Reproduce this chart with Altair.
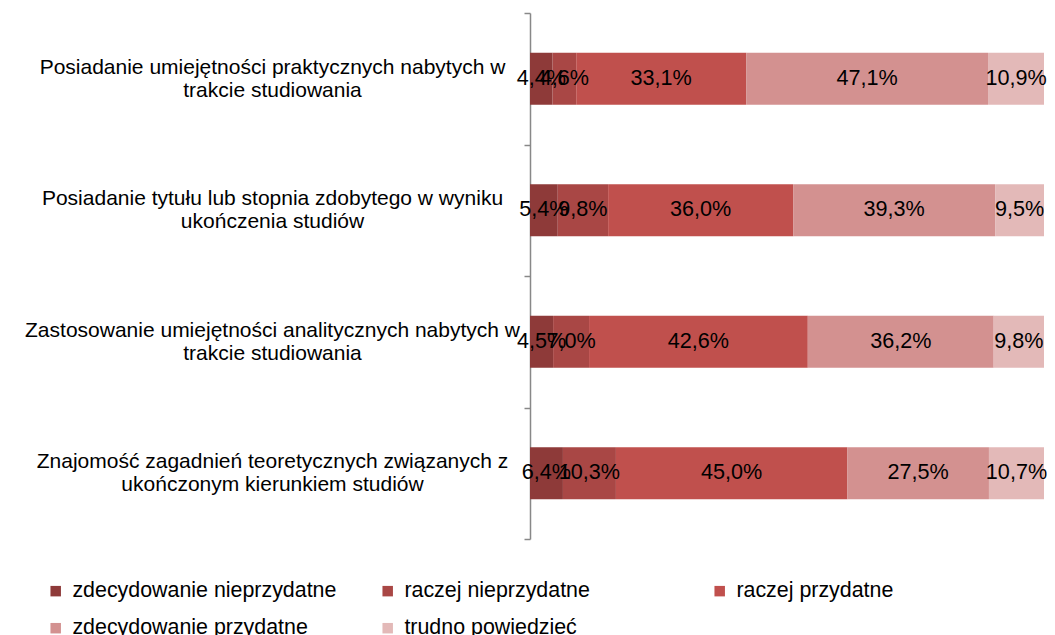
import altair as alt
import pandas as pd

categories = [
    "Posiadanie umiejętności praktycznych nabytych w|trakcie studiowania",
    "Posiadanie tytułu lub stopnia zdobytego w wyniku|ukończenia studiów",
    "Zastosowanie umiejętności analitycznych nabytych w|trakcie studiowania",
    "Znajomość zagadnień teoretycznych związanych z|ukończonym kierunkiem studiów",
]
series = [
    "zdecydowanie nieprzydatne",
    "raczej nieprzydatne",
    "raczej przydatne",
    "zdecydowanie przydatne",
    "trudno powiedzieć",
]
zdecydowanie_nieprzydatne = [4.4, 5.4, 4.5, 6.4]
raczej_nieprzydatne = [4.6, 9.8, 7.0, 10.3]
raczej_przydatne = [33.1, 36.0, 42.6, 45.0]
zdecydowanie_przydatne = [47.1, 39.3, 36.2, 27.5]
trudno_powiedziec = [10.9, 9.5, 9.8, 10.7]
colors = ["#8E3A39", "#A94745", "#C0504D", "#D39190", "#E3B9B8"]

all_values = [zdecydowanie_nieprzydatne, raczej_nieprzydatne, raczej_przydatne,
              zdecydowanie_przydatne, trudno_powiedziec]
rows = []
for si, (s, vals) in enumerate(zip(series, all_values)):
    for c, v in zip(categories, vals):
        rows.append({"kategoria": c, "seria": s, "ord": si, "value": v})
df = pd.DataFrame(rows)

FONT = "Liberation Sans"

base = alt.Chart(df).transform_stack(
    stack="value", groupby=["kategoria"], as_=["x0", "x1"],
    offset="normalize", sort=[alt.SortField("ord", order="ascending")]
).transform_calculate(
    mid="(datum.x0 + datum.x1) / 2",
    label="replace(format(datum.value, '.1f'), '.', ',') + '%'"
)

yenc = alt.Y(
    "kategoria:N", sort=categories, title=None,
    scale=alt.Scale(paddingInner=0, paddingOuter=0),
    axis=alt.Axis(
        labelExpr="split(datum.label, '|')",
        labelAlign="center", labelPadding=252, labelLimit=0,
        labelFont=FONT, labelFontSize=21, labelColor="#000000",
        labelLineHeight=23, labelOffset=-11.5,
        tickBand="extent", tickSize=6,
        tickColor="#888888", domainColor="#888888", domainWidth=1.5,
        tickWidth=1.5, grid=False,
    ),
)

bars = base.mark_bar(height={"band": 0.395}).encode(
    y=yenc,
    x=alt.X("x0:Q", axis=None, scale=alt.Scale(domain=[0, 1], nice=False)),
    x2="x1:Q",
    color=alt.Color(
        "seria:N",
        scale=alt.Scale(domain=series, range=colors),
        legend=alt.Legend(
            title=None, orient="none", legendX=-485, legendY=567,
            columns=3, direction="horizontal", symbolType="square",
            symbolSize=110, symbolStrokeWidth=0, labelFont=FONT,
            labelFontSize=21.4, labelColor="#000000", labelLimit=0,
            columnPadding=40, rowPadding=14.5, labelOffset=6,
            gridAlign="all",
        ),
    ),
    order=alt.Order("ord:Q"),
)

texts = base.mark_text(
    font=FONT, fontSize=21.6, color="#000000", baseline="middle"
).encode(
    y=alt.Y("kategoria:N", sort=categories),
    x=alt.X("mid:Q"),
    text="label:N",
)

chart = alt.layer(bars, texts).properties(
    width=514, height=526,
    autosize=alt.AutoSizeParams(type="none"),
    padding={"left": 522, "top": 5, "right": 3, "bottom": 100},
).configure_view(stroke=None)

chart.save("out.html", embed_options={"renderer": "svg", "actions": False})
